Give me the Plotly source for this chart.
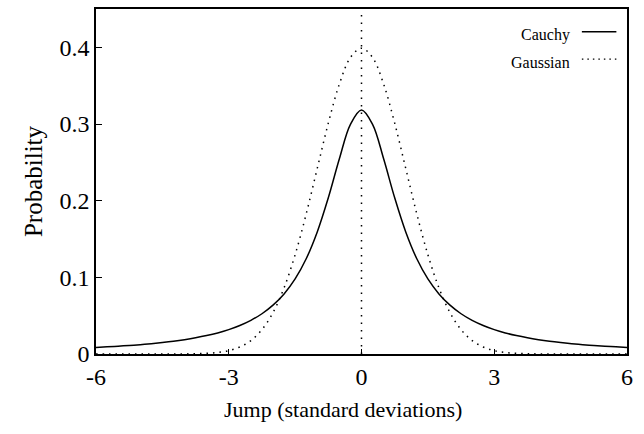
import plotly.graph_objects as go

jump = [-6, -5.75, -5.5, -5.25, -5, -4.75, -4.5, -4.25, -4, -3.75, -3.5, -3.25, -3, -2.75, -2.5, -2.25,
        -2, -1.75, -1.5, -1.25, -1, -0.75, -0.5, -0.25, 0, 0.25, 0.5, 0.75, 1, 1.25, 1.5, 1.75,
        2, 2.25, 2.5, 2.75, 3, 3.25, 3.5, 3.75, 4, 4.25, 4.5, 4.75, 5, 5.25, 5.5, 5.75, 6]

cauchy_half = [0.0086, 0.0093, 0.0102, 0.0111, 0.0122, 0.0135, 0.0150, 0.0167, 0.0187, 0.0211, 0.0240,
               0.0275, 0.0318, 0.0372, 0.0439, 0.0525, 0.0637, 0.0784, 0.0979, 0.1242, 0.1592, 0.2037,
               0.2546, 0.2996]
cauchy_peak = 0.3183
cauchy = cauchy_half + [cauchy_peak] + cauchy_half[::-1]

gauss_half = [0.0000, 0.0000, 0.0000, 0.0000, 0.0000, 0.0000, 0.0000, 0.0000, 0.0001, 0.0004, 0.0009,
              0.0020, 0.0044, 0.0091, 0.0175, 0.0317, 0.0540, 0.0863, 0.1295, 0.1826, 0.2420, 0.3011,
              0.3521, 0.3867]
gauss_peak = 0.3989
gaussian = gauss_half + [gauss_peak] + gauss_half[::-1]

x_ticks = [-6, -3, 0, 3, 6]
y_ticks = [0, 0.1, 0.2, 0.3, 0.4]
y_tick_text = ["0", "0.1", "0.2", "0.3", "0.4"]

font = "Liberation Serif, Times New Roman, serif"

fig = go.Figure()
fig.add_trace(go.Scatter(x=jump, y=cauchy, mode="lines", name="Cauchy",
                         line=dict(color="black", width=1.5, shape="spline")))
fig.add_trace(go.Scatter(x=jump, y=gaussian, mode="lines", name="Gaussian",
                         line=dict(color="black", width=1.5, dash="1.5px,5px", shape="spline")))

# vertical dotted line at zero
fig.add_shape(type="line", xref="x", yref="paper", x0=0, x1=0, y0=0, y1=1,
              line=dict(color="black", width=1.5, dash="1.5px,6px"))

# legend (text on the left, sample on the right)
fig.add_annotation(xref="paper", yref="paper", x=0.896, y=0.925, xanchor="right", yanchor="middle",
                   text="Cauchy", showarrow=False, font=dict(family=font, size=16, color="black"))
fig.add_annotation(xref="paper", yref="paper", x=0.896, y=0.845, xanchor="right", yanchor="middle",
                   text="Gaussian", showarrow=False, font=dict(family=font, size=16, color="black"))
fig.add_shape(type="line", xref="paper", yref="paper", x0=0.915, x1=0.98, y0=0.934, y1=0.934,
              line=dict(color="black", width=1.5))
fig.add_shape(type="line", xref="paper", yref="paper", x0=0.915, x1=0.98, y0=0.855, y1=0.855,
              line=dict(color="black", width=1.2, dash="1.5px,4px"))

# x-axis title (slightly left of centre, as in the original)
fig.add_annotation(xref="paper", yref="paper", x=0.465, y=-0.16, xanchor="center", yanchor="middle",
                   text="Jump (standard deviations)", showarrow=False,
                   font=dict(family=font, size=22, color="black"))

fig.update_layout(
    width=644, height=434,
    margin=dict(l=96, r=17, t=7, b=80),
    plot_bgcolor="white", paper_bgcolor="white",
    showlegend=False,
    font=dict(family=font, color="black"),
    xaxis=dict(range=[-6, 6], tickvals=x_ticks, ticktext=[str(v) for v in x_ticks],
               ticks="inside", ticklen=5, tickcolor="black", tickwidth=1.2,
               showline=True, linecolor="black", linewidth=1.5, mirror=True,
               showgrid=False, zeroline=False,
               tickfont=dict(family=font, size=24, color="black")),
    yaxis=dict(range=[0, 0.45], tickvals=y_ticks, ticktext=y_tick_text,
               ticks="inside", ticklen=6, tickcolor="black", tickwidth=1.2,
               showline=True, linecolor="black", linewidth=1.5, mirror=True,
               showgrid=False, zeroline=False,
               tickfont=dict(family=font, size=24, color="black"),
               title=dict(text="Probability", font=dict(family=font, size=25, color="black"),
                          standoff=10)),
)

fig.write_html("out.html", config={"displayModeBar": False},
               post_script="document.body.style.margin='0px';")
